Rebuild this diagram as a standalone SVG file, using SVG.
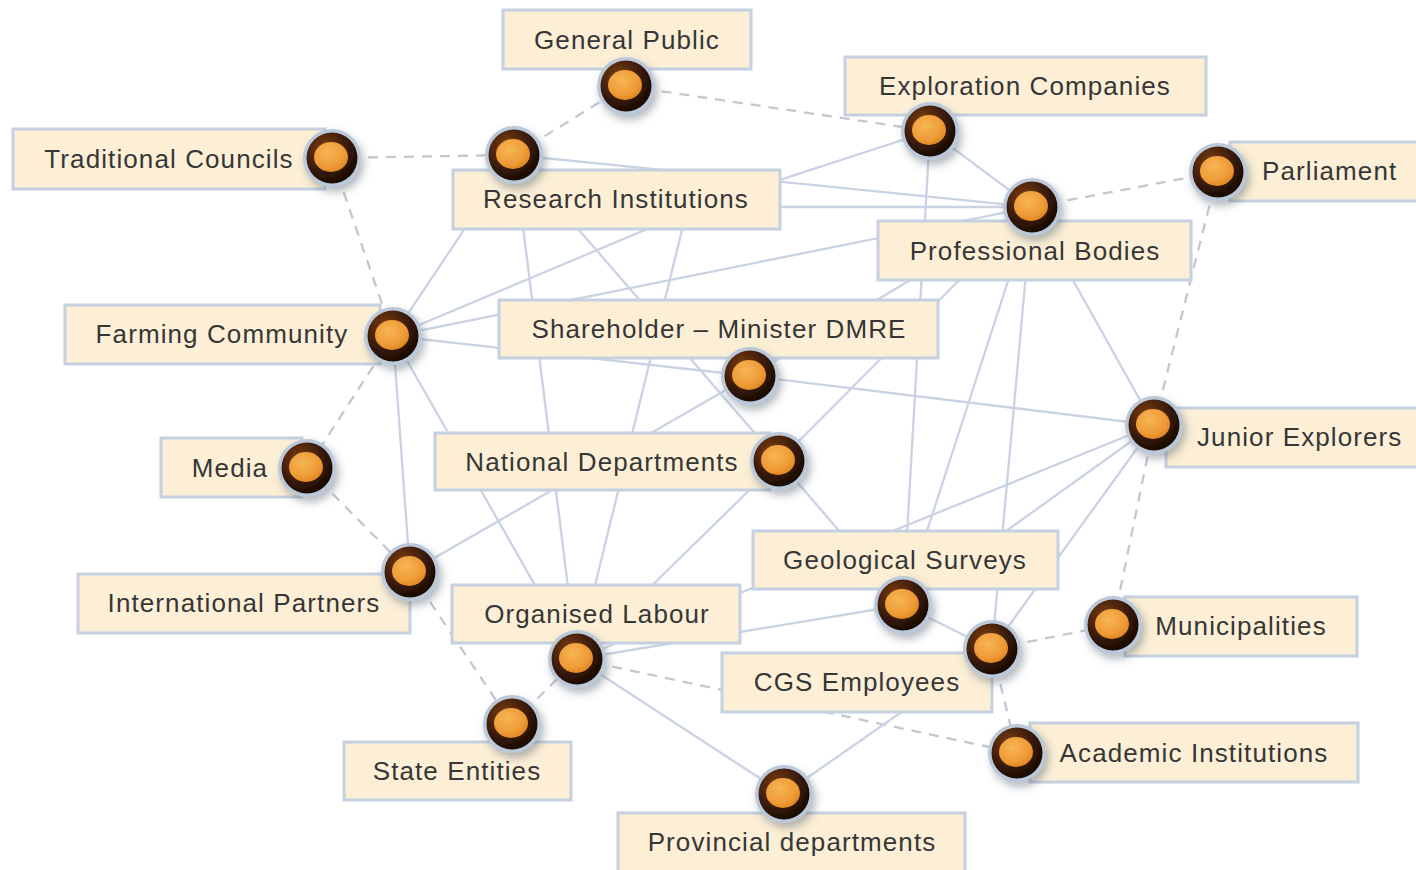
<svg xmlns="http://www.w3.org/2000/svg" width="1416" height="870" viewBox="0 0 1416 870">
<defs>
  <radialGradient id="gDark" cx="35%" cy="30%" r="75%">
    <stop offset="0" stop-color="#7a3c15"/>
    <stop offset="0.55" stop-color="#3e1d0a"/>
    <stop offset="1" stop-color="#150903"/>
  </radialGradient>
  <radialGradient id="gOrange" cx="40%" cy="35%" r="70%">
    <stop offset="0" stop-color="#f7b555"/>
    <stop offset="0.7" stop-color="#ee9a35"/>
    <stop offset="1" stop-color="#dd8420"/>
  </radialGradient>
  <filter id="dsh" x="-50%" y="-50%" width="200%" height="200%">
    <feDropShadow dx="3" dy="5" stdDeviation="4" flood-color="#556070" flood-opacity="0.45"/>
  </filter>
  <symbol id="dot" overflow="visible">
    <g filter="url(#dsh)">
      <circle cx="0" cy="0" r="29" fill="#bac8da"/>
      <circle cx="0" cy="0" r="25.5" fill="url(#gDark)"/>
      <ellipse cx="-1" cy="-1" rx="17" ry="15" fill="url(#gOrange)"/>
    </g>
  </symbol>
  <style>
    .box { fill: #fcefd6; stroke: #c5d0e0; stroke-width: 3; }
    .lbl { font-family: "Liberation Sans", Arial, sans-serif; font-size: 26px; fill: #363636; letter-spacing: 1.1px; }
    .mid { text-anchor: middle; }
    .solid { stroke: #c9d3e3; stroke-width: 2.3; fill: none; }
    .dash { stroke: #c3c7ce; stroke-width: 2.3; fill: none; stroke-dasharray: 10 8; }
  </style>
</defs>
<rect x="0" y="0" width="1416" height="870" fill="#ffffff"/>

<g id="connectors">
  <line class="dash" x1="332" y1="158" x2="514" y2="155"/>
  <line class="dash" x1="514" y1="155" x2="626" y2="86"/>
  <line class="dash" x1="626" y1="86" x2="930" y2="131"/>
  <line class="dash" x1="332" y1="158" x2="393" y2="336"/>
  <line class="dash" x1="393" y1="336" x2="307" y2="468"/>
  <line class="dash" x1="307" y1="468" x2="410" y2="572"/>
  <line class="dash" x1="410" y1="572" x2="512" y2="724"/>
  <line class="dash" x1="512" y1="724" x2="577" y2="659"/>
  <line class="dash" x1="577" y1="659" x2="1017" y2="753"/>
  <line class="dash" x1="992" y1="649" x2="1113" y2="625"/>
  <line class="dash" x1="992" y1="649" x2="1017" y2="753"/>
  <line class="dash" x1="1113" y1="625" x2="1154" y2="425"/>
  <line class="dash" x1="1154" y1="425" x2="1218" y2="172"/>
  <line class="dash" x1="1032" y1="207" x2="1218" y2="172"/>
  <line class="solid" x1="514" y1="155" x2="1032" y2="207"/>
  <line class="solid" x1="700" y1="207" x2="1032" y2="207"/>
  <line class="solid" x1="930" y1="131" x2="700" y2="206"/>
  <line class="solid" x1="393" y1="336" x2="690" y2="211"/>
  <line class="solid" x1="393" y1="336" x2="514" y2="155"/>
  <line class="solid" x1="393" y1="336" x2="1032" y2="207"/>
  <line class="solid" x1="393" y1="336" x2="750" y2="376"/>
  <line class="solid" x1="393" y1="336" x2="577" y2="659"/>
  <line class="solid" x1="393" y1="336" x2="410" y2="572"/>
  <line class="solid" x1="514" y1="155" x2="577" y2="659"/>
  <line class="solid" x1="514" y1="155" x2="779" y2="461"/>
  <line class="solid" x1="693" y1="185" x2="577" y2="659"/>
  <line class="solid" x1="779" y1="461" x2="1032" y2="207"/>
  <line class="solid" x1="750" y1="376" x2="1032" y2="207"/>
  <line class="solid" x1="750" y1="376" x2="1154" y2="425"/>
  <line class="solid" x1="410" y1="572" x2="750" y2="376"/>
  <line class="solid" x1="779" y1="461" x2="903" y2="605"/>
  <line class="solid" x1="779" y1="461" x2="577" y2="659"/>
  <line class="solid" x1="930" y1="131" x2="1032" y2="207"/>
  <line class="solid" x1="930" y1="131" x2="903" y2="605"/>
  <line class="solid" x1="1032" y1="207" x2="903" y2="605"/>
  <line class="solid" x1="1032" y1="207" x2="992" y2="649"/>
  <line class="solid" x1="1032" y1="207" x2="1154" y2="425"/>
  <line class="solid" x1="1154" y1="425" x2="577" y2="659"/>
  <line class="solid" x1="1154" y1="425" x2="903" y2="605"/>
  <line class="solid" x1="1154" y1="425" x2="992" y2="649"/>
  <line class="solid" x1="577" y1="659" x2="903" y2="605"/>
  <line class="solid" x1="577" y1="659" x2="784" y2="794"/>
  <line class="solid" x1="784" y1="794" x2="992" y2="649"/>
  <line class="solid" x1="903" y1="605" x2="992" y2="649"/>
</g>

<g id="node-general-public">
  <rect class="box" x="503" y="10" width="248" height="59"/>
  <text class="lbl mid" x="627" y="49">General Public</text>
  <use href="#dot" x="626" y="86"/>
</g>
<g id="node-exploration-companies">
  <rect class="box" x="845" y="57" width="361" height="58"/>
  <text class="lbl mid" x="1025" y="95">Exploration Companies</text>
  <use href="#dot" x="930" y="131"/>
</g>
<g id="node-traditional-councils">
  <rect class="box" x="13" y="129" width="312" height="60"/>
  <text class="lbl mid" x="169" y="168">Traditional Councils</text>
  <use href="#dot" x="332" y="158"/>
</g>
<g id="node-research-institutions">
  <rect class="box" x="453" y="170" width="327" height="59"/>
  <text class="lbl mid" x="616" y="208">Research Institutions</text>
  <use href="#dot" x="514" y="155"/>
</g>
<g id="node-parliament">
  <rect class="box" x="1230" y="142" width="200" height="59"/>
  <text class="lbl" x="1262" y="180">Parliament</text>
  <use href="#dot" x="1218" y="172"/>
</g>
<g id="node-professional-bodies">
  <rect class="box" x="878" y="221" width="313" height="59"/>
  <text class="lbl mid" x="1035" y="260">Professional Bodies</text>
  <use href="#dot" x="1032" y="207"/>
</g>
<g id="node-farming-community">
  <rect class="box" x="65" y="305" width="315" height="59"/>
  <text class="lbl mid" x="222" y="343">Farming Community</text>
  <use href="#dot" x="393" y="336"/>
</g>
<g id="node-shareholder">
  <rect class="box" x="499" y="300" width="439" height="58"/>
  <text class="lbl mid" x="719" y="338">Shareholder – Minister DMRE</text>
  <use href="#dot" x="750" y="376"/>
</g>
<g id="node-junior-explorers">
  <rect class="box" x="1166" y="408" width="260" height="59"/>
  <text class="lbl" x="1197" y="446">Junior Explorers</text>
  <use href="#dot" x="1154" y="425"/>
</g>
<g id="node-media">
  <rect class="box" x="161" y="438" width="141" height="59"/>
  <text class="lbl mid" x="230" y="477">Media</text>
  <use href="#dot" x="307" y="468"/>
</g>
<g id="node-national-departments">
  <rect class="box" x="435" y="433" width="335" height="57"/>
  <text class="lbl mid" x="602" y="471">National Departments</text>
  <use href="#dot" x="779" y="461"/>
</g>
<g id="node-international-partners">
  <rect class="box" x="78" y="574" width="332" height="59"/>
  <text class="lbl mid" x="244" y="612">International Partners</text>
  <use href="#dot" x="410" y="572"/>
</g>
<g id="node-geological-surveys">
  <rect class="box" x="753" y="531" width="305" height="58"/>
  <text class="lbl mid" x="905" y="569">Geological Surveys</text>
  <use href="#dot" x="903" y="605"/>
</g>
<g id="node-organised-labour">
  <rect class="box" x="452" y="585" width="288" height="58"/>
  <text class="lbl mid" x="597" y="623">Organised Labour</text>
  <use href="#dot" x="577" y="659"/>
</g>
<g id="node-municipalities">
  <rect class="box" x="1125" y="597" width="232" height="59"/>
  <text class="lbl mid" x="1241" y="635">Municipalities</text>
  <use href="#dot" x="1113" y="625"/>
</g>
<g id="node-cgs-employees">
  <rect class="box" x="722" y="653" width="270" height="59"/>
  <text class="lbl mid" x="857" y="691">CGS Employees</text>
  <use href="#dot" x="992" y="649"/>
</g>
<g id="node-state-entities">
  <rect class="box" x="344" y="742" width="227" height="58"/>
  <text class="lbl mid" x="457" y="780">State Entities</text>
  <use href="#dot" x="512" y="724"/>
</g>
<g id="node-academic-institutions">
  <rect class="box" x="1030" y="723" width="328" height="59"/>
  <text class="lbl mid" x="1194" y="762">Academic Institutions</text>
  <use href="#dot" x="1017" y="753"/>
</g>
<g id="node-provincial-departments">
  <rect class="box" x="618" y="813" width="347" height="70"/>
  <text class="lbl mid" x="792" y="851">Provincial departments</text>
  <use href="#dot" x="784" y="794"/>
</g>
</svg>
